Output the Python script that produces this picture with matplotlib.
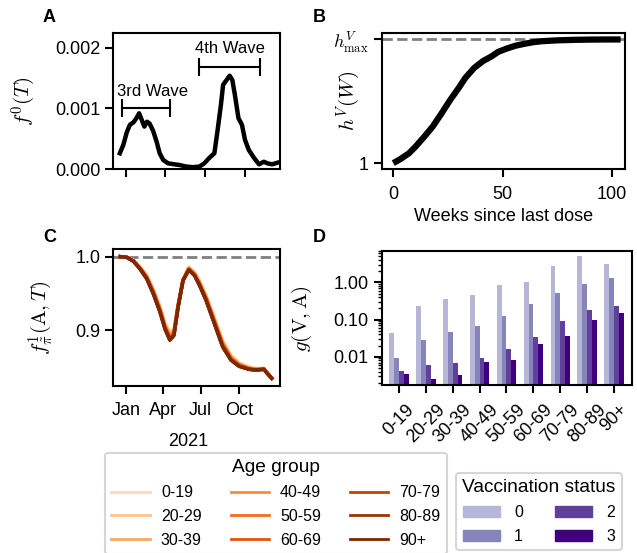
import numpy as np
import matplotlib
matplotlib.use('Agg')
import matplotlib.pyplot as plt
from matplotlib.lines import Line2D
from matplotlib.patches import Patch
from matplotlib.ticker import FormatStrFormatter, LogLocator, NullFormatter

plt.rcParams['font.family'] = ['Liberation Sans', 'DejaVu Sans']
plt.rcParams['mathtext.fontset'] = 'cm'
plt.rcParams['font.size'] = 13
plt.rcParams['axes.linewidth'] = 1.5
for ax_ in ['xtick', 'ytick']:
    plt.rcParams[ax_ + '.major.width'] = 1.5
    plt.rcParams[ax_ + '.major.size'] = 5.8
    plt.rcParams[ax_ + '.minor.width'] = 1.0
    plt.rcParams[ax_ + '.minor.size'] = 3.0
    plt.rcParams[ax_ + '.labelsize'] = 13
plt.rcParams['xtick.major.pad'] = 6
ylab_size = 15

# ---- A: new infections (days counted from 2021-01-01)
f0_days = [-14, -6, 2, 9, 17, 24, 30, 36, 42, 48, 54, 62, 70, 77, 85, 96, 111,
           122, 138, 153, 168, 179, 190, 202, 209, 217, 222, 230, 237, 243, 249,
           257, 265, 272, 281, 293, 304, 315, 323, 334, 349, 360]
f0_vals = [0.00026, 0.00040, 0.00061, 0.00073, 0.00077, 0.00084, 0.00092, 0.00081,
           0.00070, 0.00078, 0.00075, 0.00063, 0.00045, 0.00026, 0.00015, 0.000094,
           0.000077, 0.000066, 0.00004, 0.00003, 0.00004, 0.000094, 0.00018, 0.00026,
           0.00062, 0.00106, 0.00139, 0.00147, 0.00154, 0.00147, 0.00122, 0.00084,
           0.00073, 0.00048, 0.00031, 0.00018, 0.000077, 0.00012, 0.000094, 0.000077,
           0.00011, 0.00010]
wave_names = ['3rd Wave', '4th Wave']
wave_start = ['2020-12-22', '2021-06-18']
wave_end = ['2021-04-11', '2021-11-03']
wave_level = [0.00101, 0.00169]

# ---- B: waning curve
weeks = [0, 3, 7, 10, 14, 18, 22, 26, 30, 33, 37, 41, 45, 48, 52, 56, 60, 64, 68, 75, 83, 90, 97, 104]
h_max = 2.0
hV = [1.0, 1.03, 1.077, 1.13, 1.21, 1.295, 1.40, 1.51, 1.61, 1.69, 1.77, 1.825, 1.864, 1.90,
      1.927, 1.95, 1.965, 1.978, 1.986, 1.993, 1.997, 1.999, 2.0, 2.0]

# ---- C: seasonality-adjusted factor per age group
age_groups = ['0-19', '20-29', '30-39', '40-49', '50-59', '60-69', '70-79', '80-89', '90+']
f1_days = [-14, 2, 18, 34, 50, 66, 82, 94, 106, 116, 126, 138, 152, 166, 178, 194,
           214, 234, 254, 274, 298, 314, 334, 342, 353]
f1_0_19 = [1.0, 0.999, 0.995, 0.986, 0.975, 0.956, 0.932, 0.910, 0.898, 0.902, 0.936, 0.970, 0.986,
           0.979, 0.967, 0.947, 0.917, 0.886, 0.866, 0.856, 0.850, 0.848, 0.848, 0.842, 0.835]
f1_20_29 = [1.0, 0.999, 0.9948, 0.9855, 0.974, 0.955, 0.931, 0.908, 0.896, 0.900, 0.935, 0.969, 0.985,
            0.978, 0.966, 0.946, 0.916, 0.885, 0.865, 0.855, 0.849, 0.848, 0.848, 0.842, 0.835]
f1_30_39 = [1.0, 0.999, 0.9945, 0.985, 0.973, 0.954, 0.930, 0.907, 0.894, 0.899, 0.934, 0.969, 0.984,
            0.977, 0.965, 0.945, 0.914, 0.883, 0.864, 0.854, 0.849, 0.847, 0.848, 0.842, 0.835]
f1_40_49 = [1.0, 0.999, 0.9943, 0.9845, 0.972, 0.953, 0.929, 0.906, 0.892, 0.897, 0.933, 0.968, 0.984,
            0.976, 0.964, 0.944, 0.913, 0.882, 0.863, 0.853, 0.848, 0.847, 0.847, 0.842, 0.835]
f1_50_59 = [1.0, 0.999, 0.994, 0.984, 0.972, 0.952, 0.928, 0.905, 0.890, 0.896, 0.932, 0.968, 0.983,
            0.976, 0.963, 0.943, 0.912, 0.881, 0.862, 0.853, 0.848, 0.847, 0.847, 0.842, 0.835]
f1_60_69 = [1.0, 0.999, 0.994, 0.984, 0.971, 0.951, 0.927, 0.904, 0.889, 0.895, 0.932, 0.968, 0.983,
            0.975, 0.962, 0.942, 0.911, 0.880, 0.861, 0.852, 0.847, 0.846, 0.847, 0.8415, 0.835]
f1_70_79 = [1.0, 0.999, 0.9938, 0.9835, 0.9705, 0.950, 0.926, 0.903, 0.8875, 0.894, 0.9318, 0.9678,
            0.9825, 0.9745, 0.9615, 0.941, 0.910, 0.8785, 0.860, 0.8515, 0.847, 0.846, 0.847, 0.8415, 0.8347]
f1_80_89 = [1.0, 0.999, 0.9937, 0.983, 0.970, 0.9497, 0.925, 0.9023, 0.8868, 0.8932, 0.9316, 0.9676,
            0.982, 0.9743, 0.961, 0.9405, 0.909, 0.8777, 0.8597, 0.851, 0.847, 0.846, 0.847, 0.8415, 0.8347]
f1_90p = [1.0, 0.999, 0.9937, 0.983, 0.970, 0.9495, 0.9248, 0.902, 0.8865, 0.893, 0.9315, 0.9676,
          0.982, 0.9743, 0.961, 0.9405, 0.909, 0.8775, 0.8595, 0.851, 0.847, 0.846, 0.847, 0.8415, 0.8347]
f1_curves = [f1_0_19, f1_20_29, f1_30_39, f1_40_49, f1_50_59, f1_60_69, f1_70_79, f1_80_89, f1_90p]

# ---- D: g(V, A) per vaccination status
vacc_status = ['0', '1', '2', '3']
g_v0 = [0.043, 0.23, 0.356, 0.457, 0.85, 1.02, 2.75, 5.1, 3.1]
g_v1 = [0.0095, 0.028, 0.046, 0.067, 0.125, 0.26, 0.52, 0.90, 1.3]
g_v2 = [0.0042, 0.006, 0.0068, 0.0093, 0.016, 0.034, 0.091, 0.18, 0.23]
g_v3 = [0.0035, 0.0025, 0.0033, 0.0072, 0.0082, 0.022, 0.036, 0.10, 0.15]
g_vals = [g_v0, g_v1, g_v2, g_v3]

base = np.datetime64('2021-01-01')
month_ticks = np.array(['2021-01-01', '2021-04-01', '2021-07-01', '2021-10-01'], dtype='datetime64[D]')
month_labels = ['Jan', 'Apr', 'Jul', 'Oct']

W, H = 637, 553
fig = plt.figure(figsize=(W / 100, H / 100), dpi=100)


def box(l, t, r, b):
    return [l / W, 1 - b / H, (r - l) / W, (b - t) / H]


axA = fig.add_axes(box(113.3, 33.3, 280, 169))
axB = fig.add_axes(box(381.7, 33.3, 625, 169.3))
axC = fig.add_axes(box(113.3, 249, 280, 385.7))
axD = fig.add_axes(box(381.7, 250.7, 631.7, 385))

# A
tA = base + np.array(f0_days, dtype='timedelta64[D]')
axA.plot(tA, f0_vals, color='black', lw=3.2)
for name, s, e, lev in zip(wave_names, wave_start, wave_end, wave_level):
    s, e = np.datetime64(s), np.datetime64(e)
    axA.plot([s, e], [lev, lev], color='black', lw=1.5)
    axA.vlines([s, e], lev - 0.00015, lev + 0.00015, color='black', lw=1.5)
axA.text(np.datetime64('2021-03-02'), 0.00121, wave_names[0], ha='center', va='baseline', fontsize=12)
axA.text(np.datetime64('2021-08-26'), 0.00191, wave_names[1], ha='center', va='baseline', fontsize=12)
axA.set_xlim(np.datetime64('2020-12-03'), np.datetime64('2021-12-19'))
axA.set_ylim(0, 0.00224)
axA.set_yticks([0, 0.001, 0.002])
axA.yaxis.set_major_formatter(FormatStrFormatter('%.3f'))
axA.set_xticks(month_ticks)
axA.set_xticklabels([])
axA.set_ylabel('$f^0(T)$', fontsize=ylab_size)
axA.yaxis.set_label_coords(-0.45, 0.5)

# B
axB.axhline(h_max, color='grey', ls='--', lw=2)
axB.plot(weeks, hV, color='black', lw=4.5, solid_capstyle='butt')
axB.set_xlim(-5.3, 106)
axB.set_yticks([1, h_max])
axB.set_yticklabels(['1', r'$h^V_{\mathrm{max}}$'])
axB.set_xticks([0, 50, 100])
axB.set_xlabel('Weeks since last dose')
axB.set_ylabel('$h^V(W)$', fontsize=ylab_size)
axB.yaxis.set_label_coords(-0.075, 0.5)

# C
oranges = plt.cm.Oranges(np.linspace(0.2, 1.0, len(age_groups)))
tC = base + np.array(f1_days, dtype='timedelta64[D]')
axC.axhline(1.0, color='grey', ls='--', lw=2)
for vals, col in zip(f1_curves, oranges):
    axC.plot(tC, vals, color=col, lw=2.5)
axC.set_xlim(np.datetime64('2020-12-01'), np.datetime64('2022-01-09'))
axC.set_ylim(0.8247, 1.0104)
axC.set_yticks([0.9, 1.0])
axC.yaxis.set_major_formatter(FormatStrFormatter('%.1f'))
axC.set_xticks(month_ticks)
axC.set_xticklabels(month_labels)
axC.set_xlabel('2021')
axC.xaxis.set_label_coords(0.448, -0.346)
axC.set_ylabel(r'$f^1_{\tilde{\pi}}(\mathrm{A},T)$', fontsize=ylab_size)
axC.yaxis.set_label_coords(-0.35, 0.5)

# D
purples = plt.cm.Purples([0.4, 0.6, 0.8, 1.0])
x = np.arange(len(age_groups))
bw = 0.18
for k, vals in enumerate(g_vals):
    axD.bar(x + (k - 1.5) * bw, vals, width=bw, color=purples[k])
axD.set_yscale('log')
axD.set_ylim(0.00174, 7.07)
axD.set_xlim(-0.644, 8.66)
axD.yaxis.set_major_locator(LogLocator(base=10))
axD.yaxis.set_major_formatter(FormatStrFormatter('%.2f'))
axD.yaxis.set_minor_locator(LogLocator(base=10, subs=np.arange(2, 10)))
axD.yaxis.set_minor_formatter(NullFormatter())
axD.set_xticks(x)
axD.set_xticklabels(age_groups, rotation=45)
axD.set_ylabel(r'$g(\mathrm{V},\mathrm{A})$', fontsize=ylab_size)
axD.yaxis.set_label_coords(-0.27, 0.495)

# panel letters
for lab, px, py in [('A', 43, 9), ('B', 313, 9), ('C', 43, 229), ('D', 313, 229)]:
    fig.text(px / W, 1 - py / H, lab, fontsize=13, fontweight='bold', ha='left', va='top')

# legends
age_handles = [Line2D([], [], color=c, lw=2) for c in oranges]
legA = fig.legend(age_handles, age_groups, ncol=3, title='Age group', loc='upper left',
                  bbox_to_anchor=(105 / W, 1 - 453 / H), borderaxespad=0, fontsize=11.5,
                  title_fontsize=13.8, handlelength=2.4, handletextpad=0.7, columnspacing=1.8,
                  labelspacing=0.55)
legA.get_frame().set_linewidth(1.5)
vac_handles = [Patch(color=c) for c in purples]
legD = fig.legend(vac_handles, vacc_status, ncol=2, title='Vaccination status', loc='upper left',
                  bbox_to_anchor=(456 / W, 1 - 473 / H), borderaxespad=0, fontsize=11.5,
                  title_fontsize=13.8, handlelength=2.3, handletextpad=0.9, columnspacing=2.0,
                  labelspacing=0.55)
legD.get_frame().set_linewidth(1.5)

fig.savefig('out.png', dpi=100)
